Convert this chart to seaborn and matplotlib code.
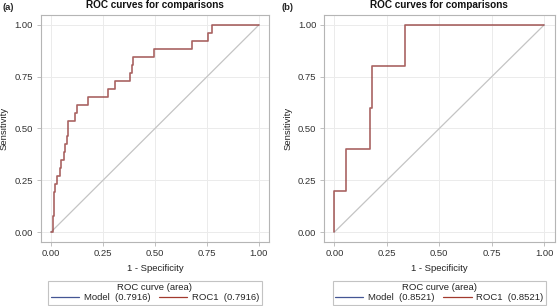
import matplotlib
matplotlib.use('Agg')
import matplotlib.pyplot as plt
import seaborn as sns
import pandas as pd

# panel (a): ROC corner points (steps-post), 26 positives
fpr_a = [0.0, 0.010, 0.013, 0.016, 0.020, 0.030, 0.043, 0.050, 0.060, 0.068,
         0.075, 0.083, 0.116, 0.124, 0.180, 0.276, 0.308, 0.380, 0.389, 0.396,
         0.496, 0.680, 0.753, 0.774, 1.0]
tpr_a = [0.0, 0.077, 0.115, 0.192, 0.231, 0.269, 0.308, 0.346, 0.385, 0.423,
         0.462, 0.538, 0.577, 0.615, 0.654, 0.692, 0.731, 0.769, 0.808, 0.846,
         0.885, 0.923, 0.962, 1.0, 1.0]
auc_a = 0.7916

# panel (b)
fpr_b = [0.0, 0.057, 0.169, 0.177, 0.338, 1.0]
tpr_b = [0.2, 0.4, 0.6, 0.8, 1.0, 1.0]
auc_b = 0.8521

panels = ['(a)', '(b)']
ticks = [0.0, 0.25, 0.5, 0.75, 1.0]
tick_labels = ['0.00', '0.25', '0.50', '0.75', '1.00']

sns.set_theme(style='whitegrid')
plt.rcParams['font.family'] = ['Liberation Sans', 'DejaVu Sans']

BLUE = '#445694'
RED = '#A23A2E'
GRAY = '#b5b5b5'

fig = plt.figure(figsize=(5.57, 3.06), dpi=100)
axes = [fig.add_axes([0.073, 0.210, 0.4105, 0.741]),
        fig.add_axes([0.5817, 0.210, 0.414, 0.741])]

data = [(fpr_a, tpr_a, auc_a), (fpr_b, tpr_b, auc_b)]

for ax, (fpr, tpr, auc), tag in zip(axes, data, panels):
    # prepend the origin so the first vertical step starts from 0
    df = pd.DataFrame({'fpr': [0.0] + fpr, 'tpr': [0.0] + tpr})
    ax.plot([0, 1], [0, 1], color='#c4c4c4', lw=0.9, zorder=1)
    sns.lineplot(data=df, x='fpr', y='tpr', ax=ax, color=BLUE, lw=1.3, alpha=0.25,
                 estimator=None, sort=False, drawstyle='steps-post', zorder=2)
    sns.lineplot(data=df, x='fpr', y='tpr', ax=ax, color=RED, lw=1.1, alpha=0.75,
                 estimator=None, sort=False, drawstyle='steps-post', zorder=3)

    ax.set_xlim(-0.05, 1.05)
    ax.set_ylim(-0.047, 1.048)
    ax.set_xticks(ticks)
    ax.set_xticklabels(tick_labels)
    ax.set_yticks(ticks)
    ax.set_yticklabels(tick_labels)
    ax.tick_params(labelsize=6.8, length=3, width=0.6, pad=2.5,
                   direction='out', bottom=True, left=True,
                   colors=GRAY, labelcolor='#333333')
    ax.grid(True, color='#ebebeb', lw=0.7)
    for s in ax.spines.values():
        s.set_color(GRAY)
        s.set_linewidth(0.8)
    ax.set_xlabel('1 - Specificity', fontsize=6.8, color='#222222', labelpad=4)
    ax.set_ylabel('Sensitivity', fontsize=6.8, color='#222222', labelpad=4)
    ax.set_title('ROC curves for comparisons', fontsize=7.2, fontweight='bold',
                 color='#111111', pad=5)

    h1 = plt.Line2D([], [], color=BLUE, lw=0.9)
    h2 = plt.Line2D([], [], color=RED, lw=0.9)
    leg = ax.legend([h1, h2], [f'Model  ({auc:.4f})', f'ROC1  ({auc:.4f})'],
                    title='ROC curve (area)', ncol=2, fontsize=6.8,
                    title_fontsize=6.8, loc='center',
                    bbox_to_anchor=(0.5, -0.225), frameon=True, fancybox=False,
                    handlelength=3.0, handletextpad=0.5, columnspacing=0.9,
                    borderpad=0.25, labelspacing=0.1, borderaxespad=0)
    leg.get_frame().set_edgecolor(GRAY)
    leg.get_frame().set_linewidth(0.8)
    leg.get_title().set_color('#222222')

fig.text(0.004, 0.975, '(a)', fontsize=6.8, fontweight='bold', va='center')
fig.text(0.505, 0.975, '(b)', fontsize=6.8, fontweight='bold', va='center')

plt.savefig('out.png', dpi=100)
plt.close()
